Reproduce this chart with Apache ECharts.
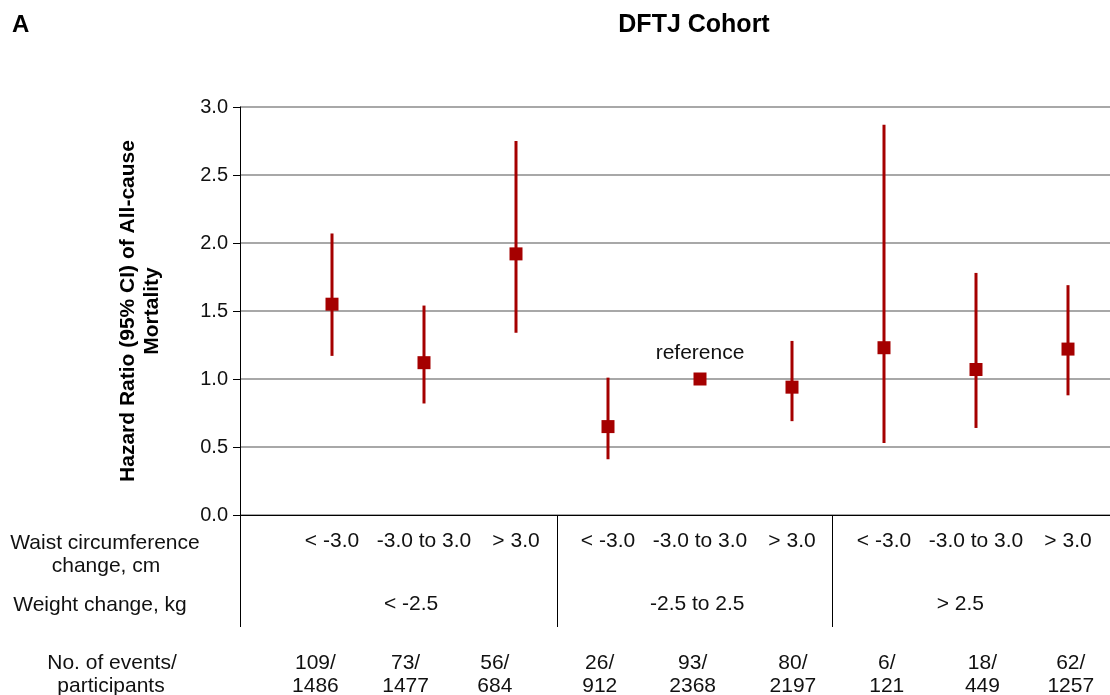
<!DOCTYPE html>
<html><head><meta charset="utf-8">
<script src="https://cdn.jsdelivr.net/npm/echarts@6/dist/echarts.min.js"></script>
<style>html,body{margin:0;padding:0;background:#fff}#c{width:1110px;height:695px}</style>
</head><body><div id="c"></div>
<script>
// ---- data ----
const positions = [1, 2, 3, 4, 5, 6, 7, 8, 9];
const waistLabels = ['< -3.0', '-3.0 to 3.0', '> 3.0', '< -3.0', '-3.0 to 3.0', '> 3.0', '< -3.0', '-3.0 to 3.0', '> 3.0'];
const hazardRatio = [1.55, 1.12, 1.92, 0.65, 1.00, 0.94, 1.23, 1.07, 1.22];
const ciLower = [1.17, 0.82, 1.34, 0.41, null, 0.69, 0.53, 0.64, 0.88];
const ciUpper = [2.07, 1.54, 2.75, 1.01, null, 1.28, 2.87, 1.78, 1.69];
const events = [109, 73, 56, 26, 93, 80, 6, 18, 62];
const participants = [1486, 1477, 684, 912, 2368, 2197, 121, 449, 1257];
const countColumns = [0.82, 1.80, 2.77, 3.91, 4.92, 6.01, 7.03, 8.07, 9.03];
const weightGroups = ['< -2.5', '-2.5 to 2.5', '> 2.5'];
const weightGroupCenters = [1.86, 4.97, 7.83];
const separators = [0, 3.45, 6.43];
const referenceIndex = 4;
const yMin = 0, yMax = 3, yInterval = 0.5;
const xMin = 0, xMax = 870 / 92;

const RED = '#A50000';
const FONT = '"Liberation Sans", Arial, sans-serif';
const TXT = '21px ' + FONT;

// table rows (text items under the axis)
const tableItems = [];
positions.forEach((p, i) => {
  tableItems.push({ x: p, row: 0, text: waistLabels[i] });
  tableItems.push({ x: countColumns[i], row: 2, text: events[i] + '/' });
  tableItems.push({ x: countColumns[i], row: 3, text: String(participants[i]) });
});
weightGroups.forEach((g, i) => tableItems.push({ x: weightGroupCenters[i], row: 1, text: g }));
const rowOffset = [26, 89, 148, 171];

const chart = echarts.init(document.getElementById('c'), null, { renderer: 'canvas' });
chart.setOption({
  animation: false,
  textStyle: { fontFamily: FONT },
  grid: { left: 240, top: 107, width: 870, height: 408, containLabel: false },
  xAxis: {
    type: 'value', min: xMin, max: xMax,
    axisLine: { show: true, lineStyle: { color: '#000', width: 1 } },
    axisTick: { show: false }, axisLabel: { show: false }, splitLine: { show: false }
  },
  yAxis: {
    type: 'value', min: yMin, max: yMax, interval: yInterval,
    axisLine: { show: true, lineStyle: { color: '#000', width: 1 } },
    axisTick: { show: true, length: 7, lineStyle: { color: '#000' } },
    axisLabel: { color: '#111', fontSize: 20, fontFamily: FONT, margin: 12, formatter: v => v.toFixed(1) },
    splitLine: { show: true, lineStyle: { color: '#A8A8A8', width: 2 } },
    name: 'Hazard Ratio (95% CI) of All-cause\nMortality',
    nameLocation: 'middle', nameGap: 76, nameRotate: 90,
    nameTextStyle: { fontSize: 21, fontWeight: 'bold', color: '#000', fontFamily: FONT, lineHeight: 24, align: 'center' }
  },
  graphic: [
    { type: 'text', position: [12, 25], style: { text: 'A', font: 'bold 24px ' + FONT, fill: '#000', verticalAlign: 'middle' } },
    { type: 'text', position: [694, 25], style: { text: 'DFTJ Cohort', font: 'bold 25px ' + FONT, fill: '#000', align: 'center', verticalAlign: 'middle' } },
    { type: 'text', position: [105, 543], style: { text: 'Waist circumference', font: TXT, fill: '#111', align: 'center', verticalAlign: 'middle' } },
    { type: 'text', position: [106, 566], style: { text: 'change, cm', font: TXT, fill: '#111', align: 'center', verticalAlign: 'middle' } },
    { type: 'text', position: [100, 605], style: { text: 'Weight change, kg', font: TXT, fill: '#111', align: 'center', verticalAlign: 'middle' } },
    { type: 'text', position: [112, 663], style: { text: 'No. of events/', font: TXT, fill: '#111', align: 'center', verticalAlign: 'middle' } },
    { type: 'text', position: [111, 686], style: { text: 'participants', font: TXT, fill: '#111', align: 'center', verticalAlign: 'middle' } }
  ],
  series: [
    {
      type: 'custom', name: 'ci', clip: false, z: 3,
      data: positions.map((p, i) => [p, ciLower[i], ciUpper[i]]).filter(d => d[1] != null),
      renderItem(params, api) {
        const a = api.coord([api.value(0), api.value(1)]);
        const b = api.coord([api.value(0), api.value(2)]);
        return { type: 'line', shape: { x1: a[0], y1: a[1], x2: b[0], y2: b[1] }, style: { stroke: RED, lineWidth: 3 } };
      }
    },
    {
      type: 'scatter', name: 'HR', symbol: 'rect', symbolSize: 13, z: 4,
      itemStyle: { color: RED, opacity: 1 },
      data: positions.map((p, i) => ({
        value: [p, hazardRatio[i]],
        label: i === referenceIndex ? { show: true, position: 'top', distance: 9, formatter: 'reference', color: '#111', fontSize: 21, fontFamily: FONT } : { show: false }
      }))
    },
    {
      type: 'custom', name: 'separators', clip: false, z: 2,
      data: separators.map(s => [s, 0]),
      renderItem(params, api) {
        const a = api.coord([api.value(0), 0]);
        const x = Math.round(a[0]) + 0.5;
        return { type: 'line', shape: { x1: x, y1: a[1], x2: x, y2: a[1] + 112 }, style: { stroke: '#000', lineWidth: 1 } };
      }
    },
    {
      type: 'custom', name: 'table', clip: false, z: 2,
      data: tableItems.map(t => [t.x, 0]),
      renderItem(params, api) {
        const t = tableItems[params.dataIndex];
        const a = api.coord([api.value(0), 0]);
        return { type: 'text', x: a[0], y: a[1] + rowOffset[t.row], style: { text: t.text, font: TXT, fill: '#111', align: 'center', verticalAlign: 'middle' } };
      }
    }
  ]
});
</script></body></html>
